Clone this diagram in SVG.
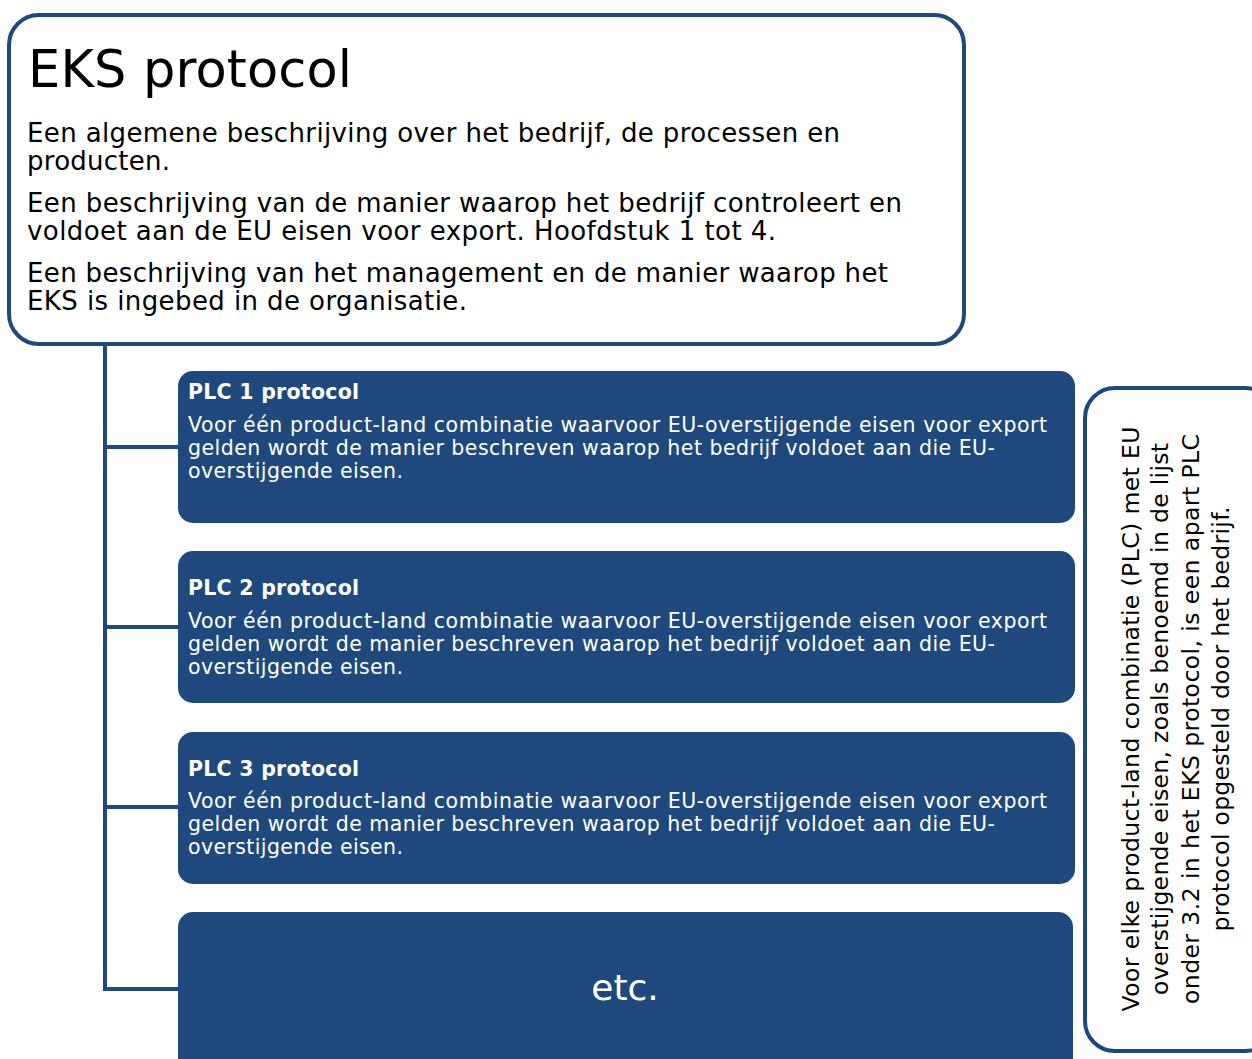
<svg xmlns="http://www.w3.org/2000/svg" width="1252" height="1059" viewBox="0 0 1252 1059">
<style>
text{font-family:"DejaVu Sans","Liberation Sans",sans-serif;}
.plc{fill:#1f497d;}
.title{font-size:51px;fill:#000;}
.body{font-size:26px;fill:#000;}
.pt{font-size:20.5px;font-weight:bold;fill:#fff;}
.pb{font-size:20.5px;fill:#fff;}
.conn{fill:none;stroke:#1f497d;stroke-width:4;}
.side{font-size:23.5px;fill:#000;}
</style>
<rect width="1252" height="1059" fill="#fff"/>
<g id="connectors">
<path class="conn" d="M105,344 V989 H178 M105,447 H178 M105,627 H178 M105,807 H178"/>
</g>
<g id="eks">
<rect x="9" y="15" width="955" height="329" rx="30" fill="#fff" stroke="#1f497d" stroke-width="4"/>
<text class="title" x="28" y="87" textLength="324" lengthAdjust="spacing">EKS protocol</text>
<text class="body" x="27" y="142" textLength="813" lengthAdjust="spacing">Een algemene beschrijving over het bedrijf, de processen en</text>
<text class="body" x="27" y="170" textLength="143" lengthAdjust="spacing">producten.</text>
<text class="body" x="27" y="212" textLength="875" lengthAdjust="spacing">Een beschrijving van de manier waarop het bedrijf controleert en</text>
<text class="body" x="27" y="240" textLength="749" lengthAdjust="spacing">voldoet aan de EU eisen voor export. Hoofdstuk 1 tot 4.</text>
<text class="body" x="27" y="282" textLength="861" lengthAdjust="spacing">Een beschrijving van het management en de manier waarop het</text>
<text class="body" x="27" y="310" textLength="440" lengthAdjust="spacing">EKS is ingebed in de organisatie.</text>
</g>
<g id="plc1">
<rect class="plc" x="178" y="371" width="897" height="152" rx="15"/>
<text class="pt" x="188" y="399" textLength="171" lengthAdjust="spacing">PLC 1 protocol</text>
<text class="pb" x="188" y="432" textLength="859" lengthAdjust="spacing">Voor één product-land combinatie waarvoor EU-overstijgende eisen voor export</text>
<text class="pb" x="188" y="455" textLength="807" lengthAdjust="spacing">gelden wordt de manier beschreven waarop het bedrijf voldoet aan die EU-</text>
<text class="pb" x="188" y="478" textLength="215" lengthAdjust="spacing">overstijgende eisen.</text>
</g>
<g id="plc2">
<rect class="plc" x="178" y="551" width="897" height="152" rx="15"/>
<text class="pt" x="188" y="595" textLength="171" lengthAdjust="spacing">PLC 2 protocol</text>
<text class="pb" x="188" y="628" textLength="859" lengthAdjust="spacing">Voor één product-land combinatie waarvoor EU-overstijgende eisen voor export</text>
<text class="pb" x="188" y="651" textLength="807" lengthAdjust="spacing">gelden wordt de manier beschreven waarop het bedrijf voldoet aan die EU-</text>
<text class="pb" x="188" y="674" textLength="215" lengthAdjust="spacing">overstijgende eisen.</text>
</g>
<g id="plc3">
<rect class="plc" x="178" y="732" width="897" height="152" rx="15"/>
<text class="pt" x="188" y="776" textLength="171" lengthAdjust="spacing">PLC 3 protocol</text>
<text class="pb" x="188" y="808" textLength="859" lengthAdjust="spacing">Voor één product-land combinatie waarvoor EU-overstijgende eisen voor export</text>
<text class="pb" x="188" y="831" textLength="807" lengthAdjust="spacing">gelden wordt de manier beschreven waarop het bedrijf voldoet aan die EU-</text>
<text class="pb" x="188" y="854" textLength="215" lengthAdjust="spacing">overstijgende eisen.</text>
</g>
<g id="etc">
<rect class="plc" x="178" y="912" width="895" height="170" rx="15"/>
<text x="625" y="1000" text-anchor="middle" font-size="36" fill="#fff">etc.</text>
</g>
<g id="note">
<rect x="1085" y="388" width="190" height="663" rx="30" fill="#fff" stroke="#1f497d" stroke-width="4"/>
<g transform="translate(0,719) rotate(-90)" text-anchor="middle">
<text class="side" x="0" y="1139" textLength="585" lengthAdjust="spacing">Voor elke product-land combinatie (PLC) met EU</text>
<text class="side" x="0" y="1168" textLength="552" lengthAdjust="spacing">overstijgende eisen, zoals benoemd in de lijst</text>
<text class="side" x="0" y="1199" textLength="570" lengthAdjust="spacing">onder 3.2 in het EKS protocol, is een apart PLC</text>
<text class="side" x="0" y="1229" textLength="425" lengthAdjust="spacing">protocol opgesteld door het bedrijf.</text>
</g>
</g>
</svg>
